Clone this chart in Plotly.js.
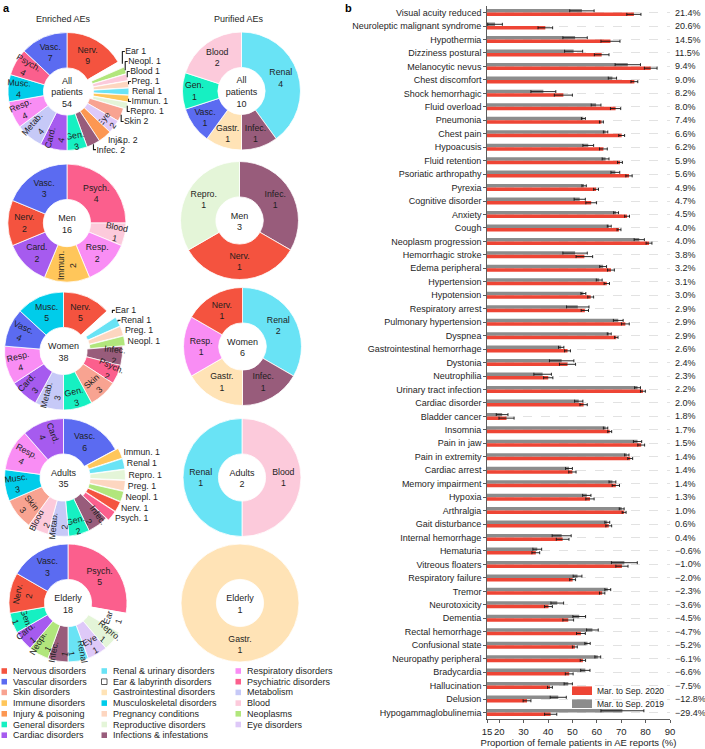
<!DOCTYPE html>
<html><head><meta charset="utf-8">
<script src="https://cdn.plot.ly/plotly-3.0.1.min.js"></script>
<style>html,body{margin:0;padding:0;background:#fff}#chart{width:705px;height:749px}</style>
</head><body><div id="chart"></div>
<script>
const W = 705, H = 749;
const FONT = 'Liberation Sans, Arial, Helvetica, sans-serif';
const TXT = '#1e1e1e';

// ---------- Panel a : categories ----------
const catAbbr  = ['Nerv.','Vasc.','Skin','Immun.','Inj&p.','Gen.','Card.','Renal','Ear','Gastr.','Musc.','Preg.','Repro.','Infec.','Resp.','Psych.','Metab.','Blood','Neopl.','Eye'];
const catNames = ['Nervous disorders','Vascular disorders','Skin disorders','Immune disorders','Injury & poisoning','General disorders','Cardiac disorders',
                  'Renal & urinary disorders','Ear & labyrinth disorders','Gastrointestinal disorders','Musculoskeletal disorders','Pregnancy conditions','Reproductive disorders','Infections & infestations',
                  'Respiratory disorders','Psychiatric disorders','Metabolism','Blood','Neoplasms','Eye disorders'];
const catColors = ['#F4533F','#5B6BF1','#F8A391','#FFC65A','#FC9752','#16F0C2','#A65BEF',
                   '#69E3F5','#FFFFFF','#FFE3B6','#00CCEA','#FDD6C0','#E4F5D8','#985C7B',
                   '#F98DF4','#FB5F8D','#C6C9F7','#FCCADB','#B1E67C','#DEC9F8'];

// ---------- Panel a : donut data ----------
const enrAllLabels = ['Nerv.','Ear','Neopl.','Blood','Preg.','Renal','Immun.','Repro.','Skin','Eye','Inj&p.','Infec.','Gen.','Card.','Metab.','Resp.','Musc.','Psych.','Vasc.'];
const enrAllValues = [9,1,1,1,1,1,1,1,2,2,2,2,3,4,4,4,4,4,7];
const enrAllOutside = ['Ear','Neopl.','Blood','Preg.','Renal','Immun.','Repro.','Skin','Inj&p.','Infec.'];
const purAllLabels = ['Renal','Infec.','Gastr.','Vasc.','Gen.','Blood'];
const purAllValues = [4,1,1,1,1,2];

const enrMenLabels = ['Psych.','Blood','Resp.','Immun.','Card.','Nerv.','Vasc.'];
const enrMenValues = [4,1,2,2,2,2,3];
const purMenLabels = ['Infec.','Nerv.','Repro.'];
const purMenValues = [1,1,1];

const enrWomenLabels = ['Nerv.','Ear','Renal','Preg.','Neopl.','Infec.','Psych.','Skin','Gen.','Metab.','Card.','Resp.','Vasc.','Musc.'];
const enrWomenValues = [5,1,1,1,1,2,2,3,3,3,3,4,4,5];
const enrWomenOutside = ['Ear','Renal','Preg.','Neopl.'];
const purWomenLabels = ['Renal','Infec.','Gastr.','Resp.','Nerv.'];
const purWomenValues = [2,1,1,1,1];

const enrAdultsLabels = ['Vasc.','Immun.','Renal','Repro.','Preg.','Neopl.','Nerv.','Psych.','Infec.','Gen.','Metab.','Blood','Skin','Musc.','Resp.','Card.'];
const enrAdultsValues = [6,1,1,1,1,1,1,1,2,2,2,2,3,3,4,4];
const enrAdultsOutside = ['Immun.','Renal','Repro.','Preg.','Neopl.','Nerv.','Psych.'];
const purAdultsLabels = ['Blood','Renal'];
const purAdultsValues = [1,1];

const enrElderlyLabels = ['Psych.','Ear','Repro.','Eye','Renal','Infec.','Neopl.','Card.','Gen.','Nerv.','Vasc.'];
const enrElderlyValues = [5,1,1,1,1,1,1,1,1,2,3];
const purElderlyLabels = ['Gastr.'];
const purElderlyValues = [1];

// ---------- Panel b : data ----------
const aeTerms = ['Visual acuity reduced','Neuroleptic malignant syndrome','Hypothermia','Dizziness postural','Melanocytic nevus','Chest discomfort','Shock hemorrhagic',
  'Fluid overload','Pneumonia','Chest pain','Hypoacusis','Fluid retention','Psoriatic arthropathy','Pyrexia','Cognitive disorder','Anxiety','Cough',
  'Neoplasm progression','Hemorrhagic stroke','Edema peripheral','Hypertension','Hypotension','Respiratory arrest','Pulmonary hypertension','Dyspnea',
  'Gastrointestinal hemorrhage','Dystonia','Neutrophilia','Urinary tract infection','Cardiac disorder','Bladder cancer','Insomnia','Pain in jaw',
  'Pain in extremity','Cardiac arrest','Memory impairment','Hypoxia','Arthralgia','Gait disturbance','Internal hemorrhage','Hematuria','Vitreous floaters',
  'Respiratory failure','Tremor','Neurotoxicity','Dementia','Rectal hemorrhage','Confusional state','Neuropathy peripheral','Bradycardia','Hallucination',
  'Delusion','Hypogammaglobulinemia'];
const female2019 = [53.9,18.3,51.1,50.5,72.7,66.4,38.1,59.7,54.5,63.6,56.5,63.6,67.6,54.8,53.0,67.9,65.1,77.4,51.1,62.6,61.0,54.5,52.2,68.8,65.1,
  45.4,45.6,37.8,76.7,52.6,21.2,63.6,76.7,72.3,48.6,66.4,55.9,70.2,64.3,45.6,35.6,71.3,52.1,64.5,43.8,52.8,58.2,56.2,60.4,55.3,48.3,44.2,70.5];
const err2019 = [5.0,3.0,5.0,3.7,5.2,1.7,5.1,2.0,0.8,0.9,2.2,1.4,1.8,0.9,2.3,1.0,0.8,2.1,5.0,1.4,1.2,1.0,4.6,2.0,0.8,
  1.1,5.0,3.6,1.2,1.7,2.4,0.9,1.7,0.9,1.4,1.4,1.7,1.0,1.0,3.9,1.8,5.3,1.8,1.2,2.6,2.6,2.4,1.1,1.2,1.9,1.7,3.3,8.8];
const female2020 = [75.2,38.9,65.6,62.0,82.1,75.4,46.3,67.7,61.9,70.2,62.7,69.5,73.2,59.7,57.7,72.4,69.1,81.4,54.9,65.8,64.1,57.5,55.1,71.7,68.0,
  48.0,48.0,40.1,78.9,54.6,23.0,65.3,78.2,73.7,50.0,67.8,57.2,71.2,64.9,46.0,35.0,70.3,50.1,62.2,40.2,48.3,53.5,51.0,54.3,48.7,40.8,31.4,41.1];
const err2020 = [2.9,3.0,3.9,3.0,2.6,1.4,3.7,2.1,0.8,1.2,1.6,1.0,1.3,1.0,2.2,1.0,0.8,1.2,3.4,1.4,1.1,1.2,1.5,1.6,0.7,
  1.2,3.3,1.9,1.0,1.5,3.1,0.8,1.4,1.0,1.5,1.5,1.7,0.8,1.2,2.6,1.6,2.5,1.2,1.1,1.6,2.2,1.8,1.0,1.1,1.6,1.0,1.6,2.5];
const changeLabels = ['21.4%','20.6%','14.5%','11.5%','9.4%','9.0%','8.2%','8.0%','7.4%','6.6%','6.2%','5.9%','5.6%','4.9%','4.7%','4.5%','4.0%',
  '4.0%','3.8%','3.2%','3.1%','3.0%','2.9%','2.9%','2.9%','2.6%','2.4%','2.3%','2.2%','2.0%','1.8%','1.7%','1.5%','1.4%','1.4%','1.4%','1.3%',
  '1.0%','0.6%','0.4%','\u22120.6%','\u22121.0%','\u22122.0%','\u22122.3%','\u22123.6%','\u22124.5%','\u22124.7%','\u22125.2%','\u22126.1%','\u22126.6%',
  '\u22127.5%','\u221212.8%','\u221229.4%'];
const xTicks = [15,20,30,40,50,60,70,80,90];
const seriesNames = ['Mar. to Sep. 2019','Mar. to Sep. 2020'];
const seriesColors = ['#8C8C8C','#EE4535'];

// ---------- helpers ----------
const colorOf = a => catColors[catAbbr.indexOf(a)];
const px = x => x / W;
const py = y => 1 - y / H;

function donut(labels, values, centre, cx, cy, outside, pullAmt, orient) {
  outside = outside || [];
  const pulls = labels.map((l, i) => (outside.includes(l) && values[i] === 1) ? pullAmt : 0);
  const maxPull = Math.max(0, ...pulls);
  const r = 59 * (1 + maxPull);
  const total = values.reduce((a, b) => a + b, 0);
  return {
    type: 'pie', labels: labels, values: values, sort: false, direction: 'clockwise', rotation: 0,
    hole: 0.4, pull: pulls,
    domain: {x: [px(cx - r), px(cx + r)], y: [py(cy + r), py(cy - r)]},
    marker: {colors: labels.map(colorOf), line: {color: '#ffffff', width: 0.8}},
    textposition: labels.map(l => outside.includes(l) ? 'outside' : 'inside'),
    texttemplate: labels.map(l => outside.includes(l) ? '%{label} %{value}' : '%{label}<br>%{value}'),
    textfont: {family: FONT, size: 9, color: TXT},
    insidetextorientation: orient || 'auto',
    showlegend: false, hoverinfo: 'none',
    title: {text: centre + '<br>' + total, position: 'middle center', font: {family: FONT, size: 9, color: TXT}}
  };
}

const traces = [
  donut(enrAllLabels, enrAllValues, 'All<br>patients', 67, 91.5, enrAllOutside, 0.05),
  donut(purAllLabels, purAllValues, 'All<br>patients', 241.5, 91, [], 0, 'horizontal'),
  donut(enrMenLabels, enrMenValues, 'Men', 67, 223, [], 0),
  donut(purMenLabels, purMenValues, 'Men', 239.5, 220.5, [], 0, 'horizontal'),
  donut(enrWomenLabels, enrWomenValues, 'Women', 63.5, 351, enrWomenOutside, 0.05),
  donut(purWomenLabels, purWomenValues, 'Women', 242.5, 346.5, [], 0, 'horizontal'),
  donut(enrAdultsLabels, enrAdultsValues, 'Adults', 63.5, 477.5, enrAdultsOutside, 0.05),
  donut(purAdultsLabels, purAdultsValues, 'Adults', 242, 477.5, [], 0, 'horizontal'),
  donut(enrElderlyLabels, enrElderlyValues, 'Elderly', 68, 603, [], 0),
  donut(purElderlyLabels, purElderlyValues, 'Elderly', 240, 603, [], 0, 'horizontal')
];

[0, 1].forEach(s => {
  traces.push({
    type: 'bar', orientation: 'h', name: seriesNames[s], y: aeTerms, x: s === 0 ? female2019 : female2020,
    marker: {color: seriesColors[s], line: {width: 0}},
    error_x: {type: 'data', array: s === 0 ? err2019 : err2020, visible: true, color: '#151515', thickness: 0.9, width: 1.5},
    hoverinfo: 'none', showlegend: false
  });
});

// ---------- annotations & shapes ----------
const annotations = [];
const shapes = [];
annotations.push({text: '<b>a</b>', xref: 'paper', yref: 'paper', x: px(1), y: py(0), xanchor: 'left', yanchor: 'top', showarrow: false, font: {family: FONT, size: 11, color: '#000'}});
annotations.push({text: '<b>b</b>', xref: 'paper', yref: 'paper', x: px(343), y: py(0), xanchor: 'left', yanchor: 'top', showarrow: false, font: {family: FONT, size: 11, color: '#000'}});
annotations.push({text: 'Enriched AEs', xref: 'paper', yref: 'paper', x: px(63), y: py(19), xanchor: 'center', yanchor: 'middle', showarrow: false, font: {family: FONT, size: 9, color: TXT}});
annotations.push({text: 'Purified AEs', xref: 'paper', yref: 'paper', x: px(239), y: py(19), xanchor: 'center', yanchor: 'middle', showarrow: false, font: {family: FONT, size: 9, color: TXT}});

// legend of panel a (three columns)
const legCols = [[0,1,2,3,4,5,6],[7,8,9,10,11,12,13],[14,15,16,17,18,19]];
const legColX = [1.5, 101.5, 235.5];
legCols.forEach((col, ci) => {
  col.forEach((k, ri) => {
    const yc = 671 + ri * 10.7;
    const x0 = legColX[ci];
    const isEar = catAbbr[k] === 'Ear';
    shapes.push({type: 'rect', xref: 'paper', yref: 'paper', x0: px(x0), x1: px(x0 + 5.5), y0: py(yc + 2.8), y1: py(yc - 2.8),
      fillcolor: catColors[k], line: {color: isEar ? '#333' : catColors[k], width: isEar ? 0.8 : 0}});
    annotations.push({text: catNames[k], xref: 'paper', yref: 'paper', x: px(x0 + 9.5), y: py(yc), xanchor: 'left', yanchor: 'middle',
      showarrow: false, font: {family: FONT, size: 9, color: TXT}});
  });
});

// legend of panel b (2020 first, then 2019)
[1, 0].forEach((s, ri) => {
  const yc = 690.7 + ri * 13;
  shapes.push({type: 'rect', xref: 'paper', yref: 'paper', x0: px(572), x1: px(592), y0: py(yc + 4.3), y1: py(yc - 4.3),
    fillcolor: seriesColors[s], line: {width: 0}});
  annotations.push({text: seriesNames[s], xref: 'paper', yref: 'paper', x: px(594.5), y: py(yc), xanchor: 'left', yanchor: 'middle',
    showarrow: false, font: {family: FONT, size: 8.5, color: TXT}});
});

// change labels of panel b
aeTerms.forEach((t, i) => {
  annotations.push({text: changeLabels[i], xref: 'paper', yref: 'y', x: px(673), y: t, xanchor: 'left', yanchor: 'middle',
    showarrow: false, font: {family: FONT, size: 9, color: TXT}});
});

const layout = {
  width: W, height: H, margin: {l: 0, r: 0, t: 0, b: 0},
  paper_bgcolor: '#fff', plot_bgcolor: '#fff',
  font: {family: FONT, size: 9, color: TXT},
  uniformtext: {mode: 'show', minsize: 8.5},
  barmode: 'group', bargap: 0.48, bargroupgap: 0,
  xaxis: {domain: [px(487), px(670)], range: [15, 90], tickvals: xTicks, tickangle: 0, ticks: 'outside', ticklen: 3, tickwidth: 0.8, tickcolor: '#333',
          showline: true, linecolor: '#333', linewidth: 0.8, showgrid: false, zeroline: false, tickfont: {size: 9.5, color: TXT},
          title: {text: 'Proportion of female patients in AE reports (%)', font: {size: 9.5, color: TXT}, standoff: 3}},
  yaxis: {domain: [py(719.5), py(5.6)], type: 'category', autorange: 'reversed', ticks: 'outside', ticklen: 3, tickwidth: 0.8, tickcolor: '#333',
          showline: true, linecolor: '#333', linewidth: 0.8, showgrid: true, gridcolor: '#cfcfcf', griddash: 'dash', gridwidth: 0.6,
          tickfont: {size: 9, color: TXT}},
  showlegend: false,
  annotations: annotations, shapes: shapes
};

Plotly.newPlot('chart', traces, layout, {staticPlot: true, displayModeBar: false});
</script>
</body></html>
